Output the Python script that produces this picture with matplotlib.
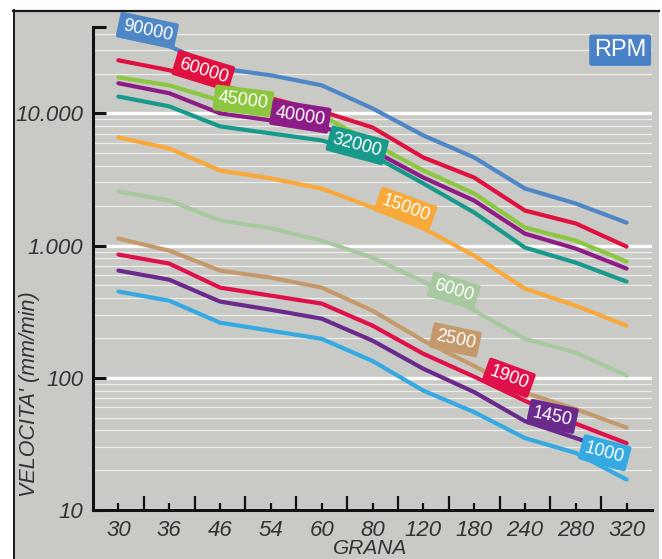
import numpy as np
import matplotlib
matplotlib.use("Agg")
import matplotlib.pyplot as plt
from matplotlib.patches import Rectangle
from matplotlib.lines import Line2D
from matplotlib.ticker import NullLocator

plt.rcParams['font.family'] = ['Liberation Sans', 'DejaVu Sans']

# Data (velocita' in mm/min per grana, one series per RPM)
grana = ['30', '36', '46', '54', '60', '80', '120', '180', '240', '280', '320']
rpm_labels = ['90000', '60000', '45000', '40000', '32000', '15000',
              '6000', '2500', '1900', '1450', '1000']
v_90000 = [39000, 32200, 21900, 19400, 16300, 10900, 6810, 4640, 2700, 2080, 1490]
v_60000 = [25200, 21200, 16300, 13000, 10350, 7830, 4640, 3270, 1840, 1470, 982]
v_45000 = [18700, 16300, 12500, 11100, 9660, 5930, 3700, 2480, 1370, 1090, 757]
v_40000 = [16900, 14200, 10000, 8850, 8110, 5250, 3270, 2190, 1230, 949, 670]
v_32000 = [13400, 11300, 7970, 7050, 6240, 4810, 2950, 1780, 966, 743, 534]
v_15000 = [6580, 5430, 3700, 3220, 2700, 1940, 1350, 840, 472, 351, 248]
v_6000 = [2570, 2190, 1550, 1350, 1090, 811, 534, 322, 197, 155, 104]
v_2500 = [1130, 916, 647, 572, 481, 322, 191, 123, 77, 58, 42]
v_1900 = [855, 731, 481, 418, 364, 248, 152, 102, 67, 45, 32]
v_1450 = [647, 552, 377, 327, 280, 191, 117, 78, 47, 35, 26]
v_1000 = [449, 383, 261, 227, 197, 134, 80, 55, 35, 27, 17]
series = [v_90000, v_60000, v_45000, v_40000, v_32000, v_15000,
          v_6000, v_2500, v_1900, v_1450, v_1000]

colors = ['#4f86c6', '#e0103f', '#8dc63f', '#8e1c87', '#17998c', '#f8a93a',
          '#a8c9a0', '#c49a6c', '#e0104a', '#6a2a8c', '#35a9e1']
# label placement: position along x (category index), upward shift (pt), angle
lab_pos = [0.57, 1.67, 2.46, 3.58, 4.7, 5.65, 6.6, 6.63, 7.68, 8.54, 9.57]
lab_dy = [8, 7, 2, 5, 4, 9, 6, 12, 11, 10, 11]
lab_rot = [-12, -17, -7, -9, -15, -20, -17, -12, -20, -12, -15]

W, H = 662, 559
fig = plt.figure(figsize=(W / 100, H / 100), dpi=100)
fig.patch.set_facecolor('white')


def fx(px):
    return px / W


def fy(py):
    return 1 - py / H


# grey panel with black top/left border
fig.patches.append(Rectangle((fx(13), 0), fx(659) - fx(13), fy(10), transform=fig.transFigure,
                             facecolor='#c9c9c5', edgecolor='none', zorder=-5))
fig.add_artist(Line2D([fx(13), fx(659)], [fy(10.5), fy(10.5)], color='#1a1a1a', lw=1.6, zorder=-4))
fig.add_artist(Line2D([fx(13.5), fx(13.5)], [0, fy(10)], color='#1a1a1a', lw=1.4, zorder=-4))

ax = fig.add_axes([fx(93), fy(510), fx(652) - fx(93), fy(27) - fy(510)])
ax.set_facecolor('none')
ax.set_yscale('log')
ax.set_ylim(10, 45000)
ax.set_xlim(-0.5, 10.5)

# gridlines
for dec in [10, 100, 1000, 10000]:
    for m in range(2, 10):
        if dec * m < 45000:
            ax.axhline(dec * m, color='#ececea', lw=0.9, zorder=1)
    ax.axhline(dec, color='white', lw=2.4, zorder=1.5)

x = np.arange(len(grana))
for vals, c in zip(series, colors):
    ax.plot(x, vals, color=c, lw=3.0, solid_capstyle='round', solid_joinstyle='round', zorder=3)

for vals, c, name, p, dy, rot in zip(series, colors, rpm_labels, lab_pos, lab_dy, lab_rot):
    yv = 10 ** np.interp(p, x, np.log10(vals))
    ax.annotate(name, (p, yv), xytext=(0, dy), textcoords='offset points',
                ha='center', va='center', rotation=rot, rotation_mode='anchor',
                color='white', fontsize=13, zorder=5,
                bbox=dict(boxstyle='round,pad=0.25,rounding_size=0.12', fc=c, ec='none'))

ax.text(0.943, 0.952, 'RPM', transform=ax.transAxes, ha='center', va='center',
        color='white', fontsize=17, zorder=5,
        bbox=dict(boxstyle='round,pad=0.2,rounding_size=0.1', fc='#4a82c8', ec='none'))

# axes styling
for s in ['top', 'right']:
    ax.spines[s].set_visible(False)
for s in ['left', 'bottom']:
    ax.spines[s].set_linewidth(2.2)
    ax.spines[s].set_color('#111111')
    ax.spines[s].set_zorder(4)

ax.set_yticks([10, 100, 1000, 10000, 45000])
ax.set_yticklabels(['10', '100', '1.000', '10.000', ''], fontstyle='italic')
ax.yaxis.set_minor_locator(NullLocator())
ax.tick_params(axis='y', which='major', direction='in', length=9, width=2.2,
               color='#111111', labelsize=16, labelcolor='#333333', pad=7)

ax.set_xticks(x)
ax.set_xticklabels(grana, fontstyle='italic')
ax.set_xticks(np.arange(0.5, 10, 1), minor=True)
ax.tick_params(axis='x', which='major', direction='in', length=5, width=1.6,
               color='#111111', labelsize=16, labelcolor='#333333', pad=7)
ax.tick_params(axis='x', which='minor', direction='in', length=10, width=1.6, color='#111111')

fig.text(fx(370), fy(549), 'GRANA', ha='center', va='center', fontsize=15,
         fontstyle='italic', color='#333333')
fig.text(fx(30), fy(394), "VELOCITA' (mm/min)", ha='center', va='center', rotation=90,
         fontsize=15.5, fontstyle='italic', color='#333333')

fig.savefig('out.png', dpi=100, facecolor=fig.get_facecolor())
